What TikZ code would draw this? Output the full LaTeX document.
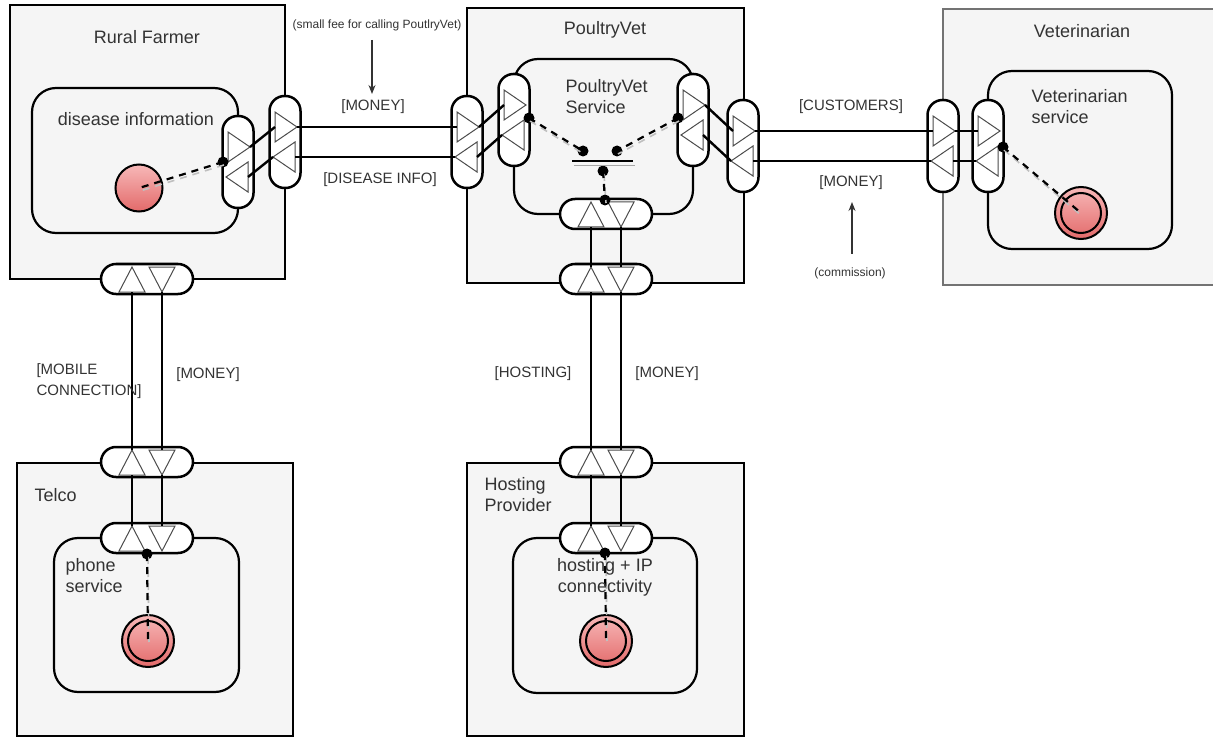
\documentclass[tikz,border=0pt]{standalone}
\usepackage{fontspec}
\setmainfont{Liberation Sans}
\usetikzlibrary{shapes.geometric,calc,arrows.meta}
\definecolor{boxfill}{HTML}{F5F5F5}
\definecolor{txt}{HTML}{333333}
\definecolor{stimtop}{HTML}{F7B8B8}
\definecolor{stimbot}{HTML}{E36A6A}
\tikzset{
  actor/.style={draw=black,line width=2.4pt,fill=boxfill},
  actorthin/.style={draw=black!55,line width=1.2pt,fill=boxfill},
  valact/.style={draw=black,line width=2.2pt,fill=boxfill,rounded corners=24pt},
  vport/.style={rectangle,rounded corners=15pt,draw=black,line width=2.5pt,fill=white,minimum width=31pt,minimum height=92pt,inner sep=0pt},
  hport/.style={rectangle,rounded corners=15pt,draw=black,line width=2.5pt,fill=white,minimum width=92pt,minimum height=30pt,inner sep=0pt},
  tri/.style={draw=black!70,line width=1pt,line join=miter},
  exch/.style={draw=black,line width=2.4pt},
  shade/.style={draw=black!25,line width=1.6pt,dash pattern=on 7pt off 6pt},
  dep/.style={draw=black,line width=2.2pt,dash pattern=on 7pt off 6pt},
  dot/.style={circle,fill=black,inner sep=0pt,minimum size=11pt},
  big/.style={font=\fontsize{18}{21}\selectfont,text=txt},
  lab/.style={font=\fontsize{15}{21}\selectfont,text=txt},
  note/.style={font=\fontsize{12}{14}\selectfont,text=txt},
  stim/.style={circle,draw=black,line width=2pt,top color=stimtop,bottom color=stimbot,inner sep=0pt},
  ring/.style={circle,draw=black,line width=2pt,inner sep=0pt},
  notearrow/.style={draw=black!80,line width=1.2pt,-{Stealth[length=9pt,width=7pt]}},
}
\newcommand\VPort[3]{%
  \node[vport] (#1) at (#2,#3) {};
  \draw[tri] ($(#1)+(-10,-30)$) -- ($(#1)+(-10,0)$) -- ($(#1)+(12,-15)$) -- cycle;
  \draw[tri] ($(#1)+(10,0)$) -- ($(#1)+(10,30)$) -- ($(#1)+(-12,15)$) -- cycle;}
\newcommand\HPort[3]{%
  \node[hport] (#1) at (#2,#3) {};
  \draw[tri] ($(#1)+(-28,13)$) -- ($(#1)+(-2,13)$) -- ($(#1)+(-15,-12)$) -- cycle;
  \draw[tri] ($(#1)+(2,-12)$) -- ($(#1)+(28,-12)$) -- ($(#1)+(15,13)$) -- cycle;}
\begin{document}
\begin{tikzpicture}[x=1pt,y=-1pt]
\useasboundingbox (0,0) rectangle (1213,738);
% actors
\draw[actor] (10,5) rectangle (285,279);
\draw[actor] (467,8) rectangle (744,283);
\draw[actorthin] (943,9) rectangle (1216,285);
\draw[actor] (17,463) rectangle (293,736);
\draw[actor] (467,463) rectangle (744,736);
% value activities
\draw[valact] (32,88) rectangle (238,233);
\draw[valact] (514,59) rectangle (693,214);
\draw[valact] (988,71) rectangle (1172,249);
\draw[valact] (54,538) rectangle (239,692);
\draw[valact] (513,538) rectangle (697,693);
% ports
\VPort{fi}{238}{162}
\VPort{fo}{285}{142}
\VPort{pl}{467}{142}
\VPort{pli}{514}{120}
\VPort{pri}{693}{120}
\VPort{pr}{743}{146}
\VPort{vo}{943}{146}
\VPort{vi}{988}{146}
\HPort{fb}{147}{279}
\HPort{tt}{147}{462}
\HPort{ti}{147}{538}
\HPort{psb}{606}{214}
\HPort{pb}{606}{279}
\HPort{ht}{606}{462}
\HPort{hi}{606}{538}
% value exchanges
\draw[exch] ($(fo)+(12,-15)$) -- ($(pl)+(-10,-15)$);
\draw[exch] ($(fo)+(10,15)$) -- ($(pl)+(-12,15)$);
\draw[exch] ($(pr)+(12,-15)$) -- ($(vo)+(-10,-15)$);
\draw[exch] ($(pr)+(10,15)$) -- ($(vo)+(-12,15)$);
\draw[exch] ($(vo)+(12,-15)$) -- ($(vi)+(-10,-15)$);
\draw[exch] ($(vo)+(10,15)$) -- ($(vi)+(-12,15)$);
\draw[exch] ($(fi)+(12,-15)$) -- ($(fo)+(-10,-15)$);
\draw[exch] ($(fi)+(10,15)$) -- ($(fo)+(-12,15)$);
\draw[exch] ($(pl)+(12,-15)$) -- ($(pli)+(-10,-15)$);
\draw[exch] ($(pl)+(10,15)$) -- ($(pli)+(-12,15)$);
\draw[exch] ($(pri)+(12,-15)$) -- ($(pr)+(-10,-15)$);
\draw[exch] ($(pri)+(10,15)$) -- ($(pr)+(-12,15)$);
\draw[exch] ($(fb)+(-15,13)$) -- ($(tt)+(-15,-12)$);
\draw[exch] ($(fb)+(15,13)$) -- ($(tt)+(15,-12)$);
\draw[exch] ($(tt)+(-15,13)$) -- ($(ti)+(-15,-12)$);
\draw[exch] ($(tt)+(15,13)$) -- ($(ti)+(15,-12)$);
\draw[exch] ($(psb)+(-15,13)$) -- ($(pb)+(-15,-12)$);
\draw[exch] ($(psb)+(15,13)$) -- ($(pb)+(15,-12)$);
\draw[exch] ($(pb)+(-15,13)$) -- ($(ht)+(-15,-12)$);
\draw[exch] ($(pb)+(15,13)$) -- ($(ht)+(15,-12)$);
\draw[exch] ($(ht)+(-15,13)$) -- ($(hi)+(-15,-12)$);
\draw[exch] ($(ht)+(15,13)$) -- ($(hi)+(15,-12)$);
% stimuli
\node[stim,minimum size=47pt] (fs) at (139,188) {};
\node[stim,minimum size=52pt] (ve) at (1081,213) {};
\node[ring,minimum size=40pt] at (ve) {};
\node[stim,minimum size=52pt] (te) at (148,641) {};
\node[ring,minimum size=40pt] at (te) {};
\node[stim,minimum size=52pt] (he) at (606,641) {};
\node[ring,minimum size=40pt] at (he) {};
% dependency dots
\node[dot] (fd) at (223,162) {};
\node[dot] (pld) at (529,118) {};
\node[dot] (prd) at (678,118) {};
\node[dot] (ja) at (583,151) {};
\node[dot] (jb) at (617,151) {};
\node[dot] (jc) at (603,171) {};
\node[dot] (psd) at (605,200) {};
\node[dot] (vd) at (1003,147) {};
\node[dot] (td) at (147,554) {};
\node[dot] (hd) at (605,553) {};
\draw[line width=2pt] (572,161) -- (633,161);
\draw[black!35,line width=1.6pt] (574,165.5) -- (635,165.5);
% dependency paths
\foreach \a/\b in {fd/fs,pld/ja,prd/jb,jc/psd,vd/ve,td/te,hd/he}{
  \draw[shade] ([shift={(1,3)}]\a.center) -- ([shift={(1,3)}]\b.center);
  \draw[dep] (\a.center) -- (\b.center);
}
% texts
\node[big] (t1) at (147,37) {Rural Farmer};
\node[big] (t2) at (136,119) {disease information};
\node[big] (t3) at (605,30) {PoultryVet};
\node[big,align=left,anchor=west] (t4) at (562,97) {PoultryVet\\Service};
\node[big] (t5) at (1082,31) {Veterinarian};
\node[big,align=left,anchor=west] (t6) at (1028,107) {Veterinarian\\service};
\node[big,anchor=west] (t7) at (31,495) {Telco};
\node[big,align=left,anchor=west] (t8) at (62,576) {phone\\service};
\node[big,align=left,anchor=west] (t9) at (481,495) {Hosting\\Provider};
\node[big,align=center] (t10) at (605,577) {hosting + IP\\connectivity};
% exchange labels
\node[note] (fee) at (377,25) {(small fee for calling PoutlryVet)};
\node[lab] (m1) at (373,107) {[MONEY]};
\node[lab] (di) at (380,180) {[DISEASE INFO]};
\node[lab] (cu) at (851,107) {[CUSTOMERS]};
\node[lab] (m2) at (851,183) {[MONEY]};
\node[note] (com) at (850,273) {(commission)};
\node[lab,align=left,anchor=west] (mc) at (33,381) {[MOBILE\\CONNECTION]};
\node[lab] (m3) at (208,375) {[MONEY]};
\node[lab] (ho) at (533,374) {[HOSTING]};
\node[lab] (m4) at (667,374) {[MONEY]};
\coordinate (feeA) at (372,40);
\coordinate (feeB) at (372,94);
\coordinate (comA) at (852,254);
\coordinate (comB) at (852,202);
\draw[notearrow] (feeA) -- (feeB);
\draw[notearrow] (comA) -- (comB);
\end{tikzpicture}
\end{document}
